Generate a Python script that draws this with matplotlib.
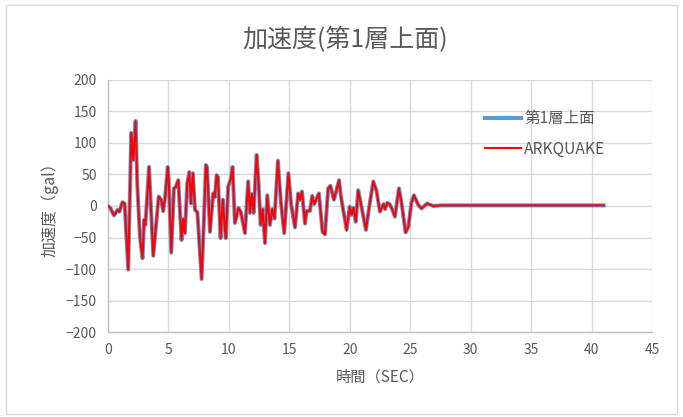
import numpy as np
import matplotlib.pyplot as plt
from matplotlib.patches import Rectangle

plt.rcParams['font.family'] = ['Noto Sans CJK JP', 'DejaVu Sans']

# acceleration record, 1st floor top (time in sec, acc in gal)
time_sec = [0.0, 0.2, 0.5, 0.8, 0.95, 1.2, 1.38, 1.68, 1.93, 2.1, 2.29, 2.43, 2.65, 2.86,
            3.0, 3.1, 3.4, 3.75, 4.2, 4.4, 4.57, 4.72, 4.95, 5.02, 5.24, 5.46, 5.6, 5.82,
            6.09, 6.23, 6.37, 6.56, 6.73, 6.87, 7.03, 7.2, 7.4, 7.75, 7.94, 8.1, 8.2, 8.44,
            8.71, 8.85, 8.99, 9.1, 9.32, 9.5, 9.68, 9.75, 9.95, 10.15, 10.31, 10.5, 10.6,
            10.8, 11.0, 11.33, 11.6, 11.75, 11.9, 12.05, 12.3, 12.45, 12.63, 12.8, 12.99,
            13.18, 13.4, 13.6, 13.78, 14.06, 14.3, 14.58, 14.93, 15.15, 15.47, 15.74, 15.9,
            16.05, 16.3, 16.43, 16.7, 16.9, 17.06, 17.45, 17.75, 17.95, 18.22, 18.4, 18.7,
            19.12, 19.25, 19.74, 20.0, 20.15, 20.3, 20.5, 20.7, 20.9, 21.34, 21.6, 21.95,
            22.2, 22.5, 22.8, 22.93, 23.1, 23.3, 23.5, 23.74, 24.07, 24.3, 24.62, 24.85,
            25.1, 25.31, 25.66, 25.94, 26.4, 26.9, 27.5, 41.0]
acc_gal = [0, -3, -15, -6, -9, 6, 4, -101, 116, 73, 135, 33, -49, -83,
           -22, -30, 62, -79, 15, 10, -8, 12, 62, 45, -74, 28, 30, 41,
           -54, -21, -43, 36, 54, 4, 52, -6, -10, -116, -22, 65, 62, -41,
           20, 14, 49, 46, -51, 10, -38, -51, 31, 42, 62, -27, -20,
           -3, -10, -43, 39, -11, 19, -11, 81, 40, -30, -5, -59,
           17, -30, -5, -20, 72, 7, -43, 52, 3, -34, 20, 10,
           23, -28, -8, -8, 16, 3, 20, -41, -45, 28, 32, 10,
           41, 18, -38, -1, -14, -3, -25, 25, 6, -38, -3, 39,
           25, -9, 3, -5, 5, 3, -5, -17, 28, 3, -42, -33,
           5, 17, 2, -4, 4, 0, 1, 1]

first_floor = np.array(acc_gal)
arkquake = np.array(acc_gal)

fig = plt.figure(figsize=(6.83, 4.17), dpi=100)
fig.patches.append(Rectangle((0.009, 0.006), 0.982, 0.982, transform=fig.transFigure,
                             fill=False, edgecolor='#d9d9d9', linewidth=1))

ax = fig.add_axes([0.158, 0.2038, 0.7966, 0.6044])
ax.plot(time_sec, first_floor, color='#5B9BD5', linewidth=2.9, label='第1層上面', zorder=3)
ax.plot(time_sec, arkquake, color='#FF0000', linewidth=1.5, label='ARKQUAKE', zorder=4)

ax.set_xlim(0, 45)
ax.set_ylim(-200, 200)
ax.set_xticks(range(0, 46, 5))
ax.set_yticks(range(-200, 201, 50))
ax.grid(True, color='#d9d9d9', linewidth=1)
ax.set_axisbelow(True)
ax.tick_params(length=0, labelsize=10, labelcolor='#595959', pad=8)
for s in ['top', 'right']:
    ax.spines[s].set_visible(False)
for s in ['left', 'bottom']:
    ax.spines[s].set_color('#bfbfbf')
    ax.spines[s].set_linewidth(1)

fig.text(0.505, 0.903, '加速度(第1層上面)', ha='center', va='center', fontsize=18, color='#595959')
ax.set_xlabel('時間（SEC）', fontsize=11, color='#595959', labelpad=8)
ax.set_ylabel('加速度（gal）', fontsize=11.5, color='#595959', labelpad=5)

leg = ax.legend(loc='upper left', bbox_to_anchor=(0.668, 0.935), frameon=False, fontsize=11.2,
                handlelength=2.3, labelspacing=0.85, handletextpad=0.2)
for t in leg.get_texts():
    t.set_color('#595959')

fig.savefig('out.png', dpi=100)
